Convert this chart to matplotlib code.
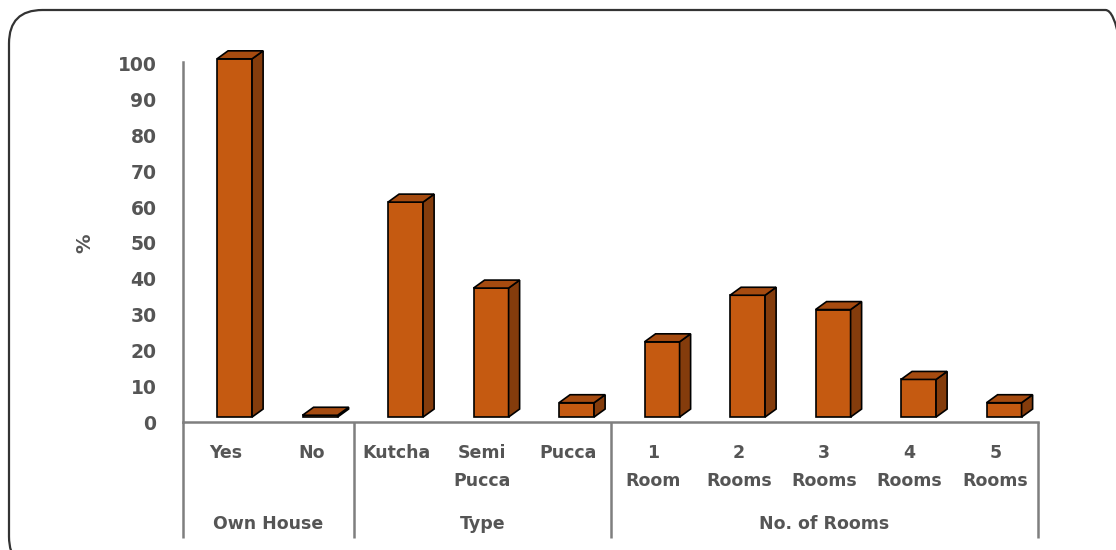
import matplotlib.pyplot as plt
import matplotlib.transforms as mtransforms
from matplotlib.patches import Polygon, FancyBboxPatch

# ---------- data ----------
categories = ["Yes", "No", "Kutcha", "Semi\nPucca", "Pucca",
              "1\nRoom", "2\nRooms", "3\nRooms", "4\nRooms", "5\nRooms"]
values = [100, 0.5, 60, 36, 4, 21, 34, 30, 10.5, 4]
groups = ["Own House", "Type", "No. of Rooms"]
group_sizes = [2, 3, 5]
yticks = list(range(0, 101, 10))

# ---------- style ----------
FRONT = "#C55A11"
SIDE = "#843C0C"
TOP = "#A64B10"
TXT = "#555555"
AX = "#7f7f7f"

W, H = 1116, 550
fig = plt.figure(figsize=(W / 100, H / 100), dpi=100)
ax = fig.add_axes([183 / W, 1 - 421.7 / H, 855 / W, 398.7 / H])
ax.set_xlim(-0.5, len(categories) - 0.5)
ax.set_ylim(-1.3, 110)

# 3D-looking bars (front, side, top faces)
bw = 0.41          # front face width
dx, dy = 0.129, 2.23  # depth offsets in data units
for i, v in enumerate(values):
    x0 = i - 0.102
    x1 = x0 + bw
    ax.add_patch(Polygon([[x0, 0], [x1, 0], [x1, v], [x0, v]],
                         closed=True, fc=FRONT, ec="black", lw=1.2, zorder=3))
    ax.add_patch(Polygon([[x1, 0], [x1 + dx, dy], [x1 + dx, v + dy], [x1, v]],
                         closed=True, fc=SIDE, ec="black", lw=1.2, zorder=3))
    ax.add_patch(Polygon([[x0, v], [x1, v], [x1 + dx, v + dy], [x0 + dx, v + dy]],
                         closed=True, fc=TOP, ec="black", lw=1.2, zorder=3))

# axes
for s in ["top", "right"]:
    ax.spines[s].set_visible(False)
ax.spines["left"].set_bounds(-1.3, 99)
for s in ["left", "bottom"]:
    ax.spines[s].set_color(AX)
    ax.spines[s].set_linewidth(1.8)
ax.set_yticks(yticks)
ax.set_yticklabels([str(t) for t in yticks], fontsize=13.5, fontweight="bold",
                   color=TXT)
ax.tick_params(axis="y", length=0, pad=19)
ax.set_xticks([])
# labels sit a little below the bar scale in the original (3D projection)
shift = mtransforms.ScaledTranslation(0, -5 / 100, fig.dpi_scale_trans)
for lab in ax.get_yticklabels():
    lab.set_transform(lab.get_transform() + shift)

ax.text(-1.646, 48.6, "%", rotation=90, ha="center", va="center",
        fontsize=14, fontweight="bold", color=TXT)

# category labels
for i, lab in enumerate(categories):
    ax.text(i, -7.4, lab, ha="center", va="top", fontsize=12.5,
            fontweight="bold", color=TXT, linespacing=1.75, clip_on=False)

# group labels and separators
start = 0
bounds = [-0.5]
for g, n in zip(groups, group_sizes):
    mid = start + (n - 1) / 2
    ax.text(mid, -29.9, g, ha="center", va="center", fontsize=12.5,
            fontweight="bold", color=TXT, clip_on=False)
    start += n
    bounds.append(start - 0.5)
for b in bounds:
    ax.plot([b, b], [-1.3, -33.8], color=AX, lw=1.8, clip_on=False,
            solid_capstyle="butt")

# rounded frame around the figure
frame = FancyBboxPatch((9 / W, -20 / H), 1130 / W, (540 + 20) / H,
                       boxstyle="round,pad=0,rounding_size=0.03",
                       transform=fig.transFigure, fc="none", ec="#333333",
                       lw=1.6, mutation_aspect=W / H)
fig.patches.append(frame)

fig.savefig("out.png", dpi=100)
